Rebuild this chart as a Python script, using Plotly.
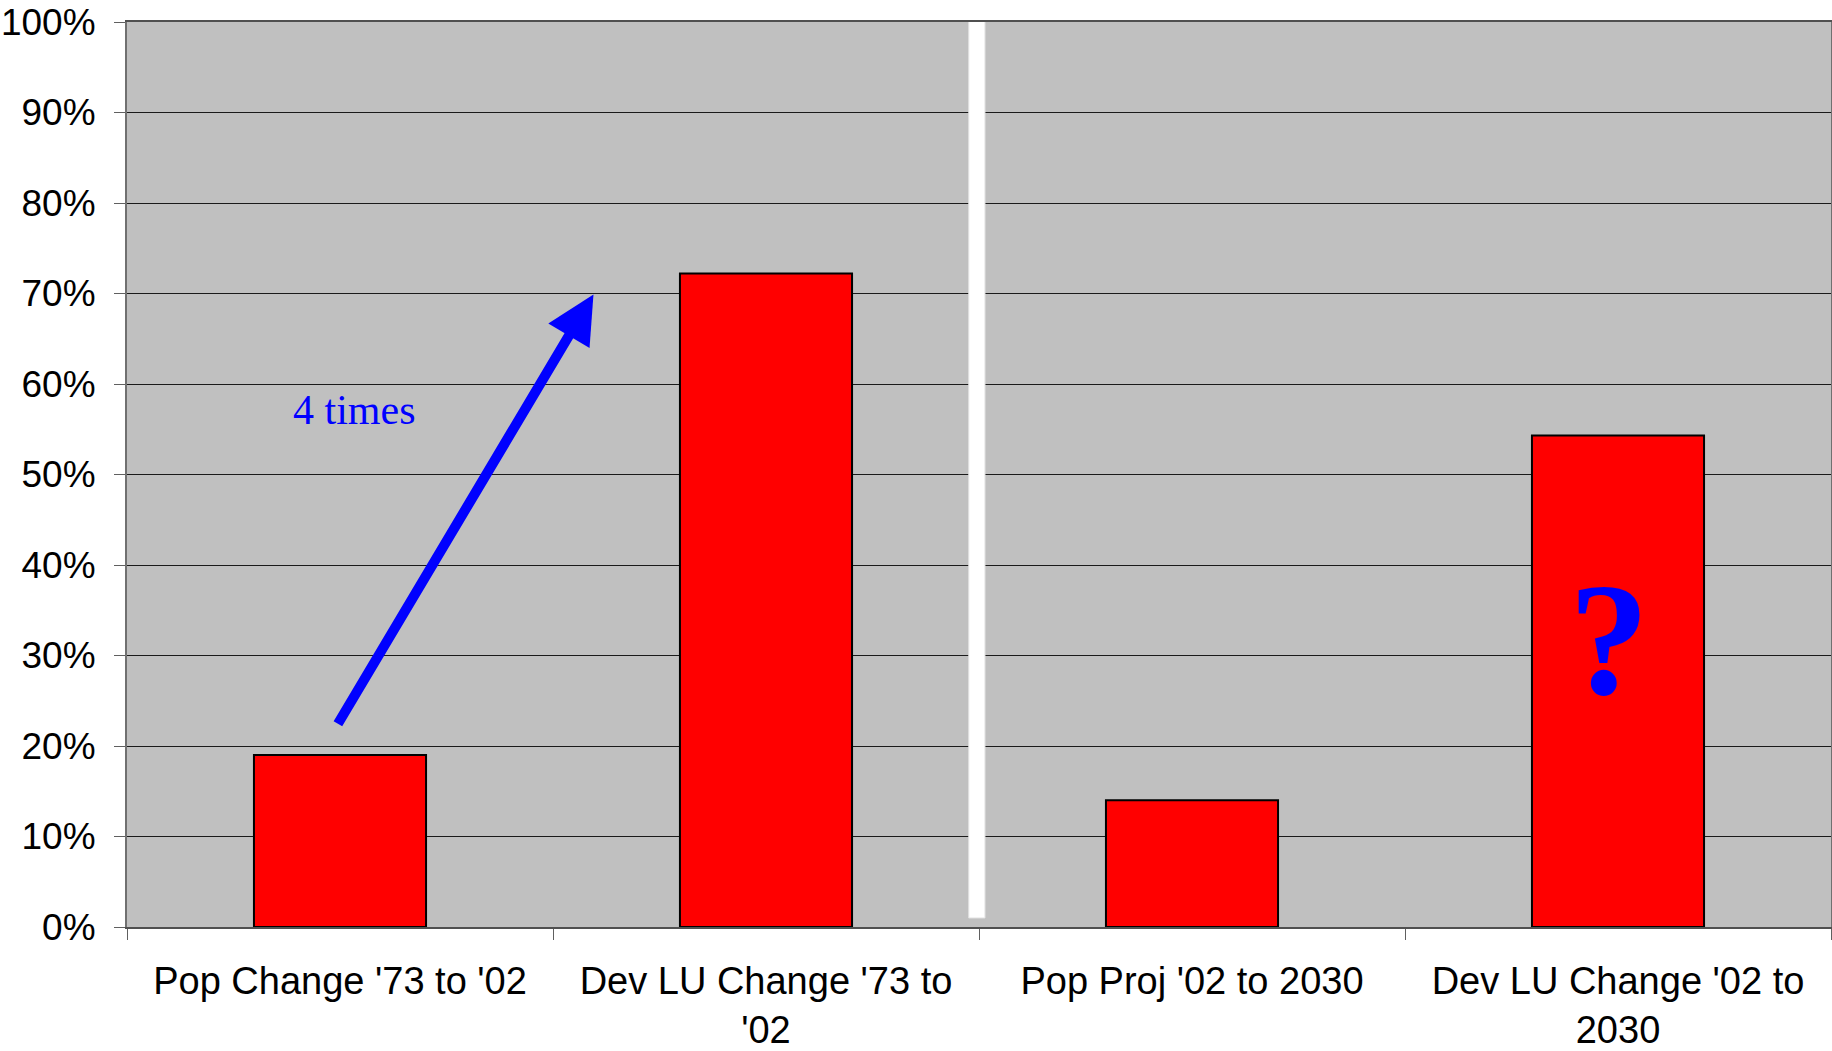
import plotly.graph_objects as go

categories = ["Pop Change '73 to '02", "Dev LU Change '73 to<br>'02",
              "Pop Proj '02 to 2030", "Dev LU Change '02 to<br>2030"]
values = [0.19, 0.722, 0.14, 0.543]
y_ticks = [i / 10 for i in range(11)]

fig = go.Figure()
fig.add_trace(go.Bar(
    x=categories, y=values,
    marker=dict(color="#FF0000", line=dict(color="#000000", width=2)),
    hoverinfo="skip",
))

fig.update_layout(
    width=1832, height=1051,
    margin=dict(l=127, r=1, t=22, b=124),
    paper_bgcolor="white", plot_bgcolor="#C0C0C0",
    bargap=0.596, showlegend=False,
    font=dict(family="Liberation Sans, Arial, sans-serif", color="black"),
)
fig.update_yaxes(
    range=[0, 1], tickvals=y_ticks, tickformat=".0%",
    showgrid=True, gridcolor="#1a1a1a", gridwidth=1,
    ticks="outside", ticklen=11, tickcolor="#606060", tickwidth=1,
    showline=True, linecolor="#707070", linewidth=2, mirror=True,
    tickfont=dict(size=37), ticklabelstandoff=11, zeroline=False,
    automargin=False, ticklabeloverflow="allow",
)
fig.update_xaxes(
    type="category", tickson="boundaries",
    ticks="outside", ticklen=11, tickcolor="#606060", tickwidth=1,
    showline=True, linecolor="#505050", linewidth=2, mirror=True,
    tickfont=dict(size=38), ticklabelstandoff=19, showgrid=False,
    automargin=False, ticklabeloverflow="allow",
)

# white divider between historic and projected groups
fig.add_shape(type="rect", xref="x", yref="y", x0=1.476, x1=1.514, y0=0.01, y1=1.01,
              fillcolor="white", line=dict(color="#e4e4e4", width=1), layer="above")

# arrow
fig.add_annotation(x=0.595, y=0.699, ax=-0.007, ay=0.223, xref="x", yref="y",
                   axref="x", ayref="y", text="", showarrow=True,
                   arrowhead=2, arrowsize=0.96, arrowwidth=10, arrowcolor="#0000FF")
fig.add_annotation(x=0.033, y=0.571, xref="x", yref="y", text="4 times", showarrow=False,
                   font=dict(family="Liberation Serif, Times New Roman, serif", size=42, color="#0000FF"))
fig.add_annotation(x=2.98, y=0.317, xref="x", yref="y", text="<b>?</b>", showarrow=False,
                   font=dict(family="Liberation Serif, Times New Roman, serif", size=160, color="#0000FF"))

fig.write_html("out.html", config={"displayModeBar": False},
               post_script="document.body.style.margin='0px';document.body.style.overflow='hidden';")
